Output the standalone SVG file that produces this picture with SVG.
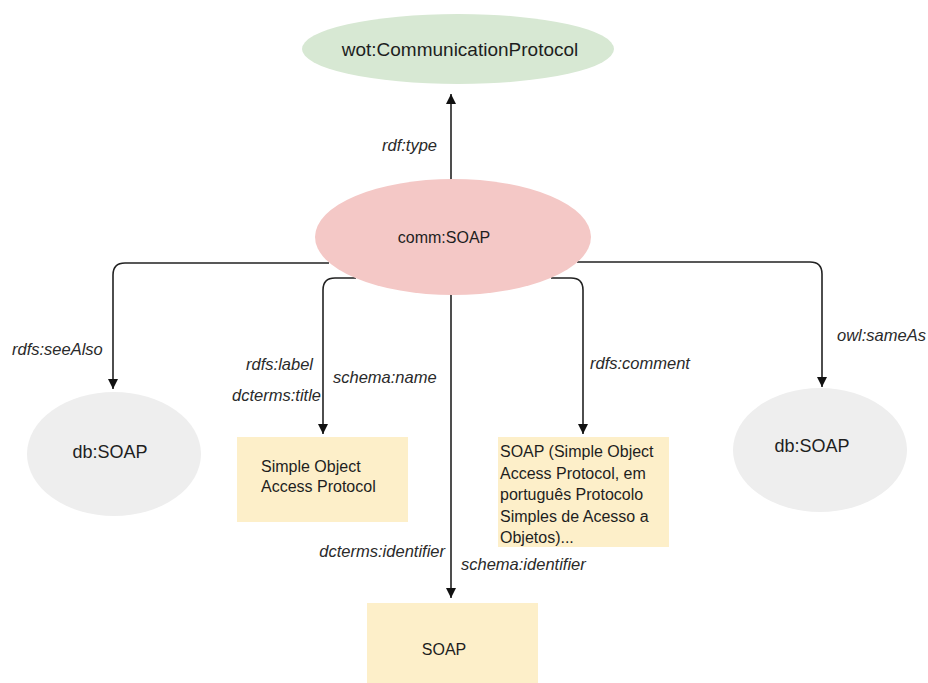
<svg xmlns="http://www.w3.org/2000/svg" width="928" height="683" viewBox="0 0 928 683">
<defs>
<marker id="arr" viewBox="0 0 10 10" refX="10" refY="5" markerWidth="10" markerHeight="10" markerUnits="userSpaceOnUse" orient="auto">
<path d="M0,0 L10,5 L0,10 Z" fill="#111"/>
</marker>
<style>
.edge{fill:none;stroke:#222;stroke-width:1.6;marker-end:url(#arr)}
.lbl{font-family:"Liberation Sans",Arial,sans-serif;font-style:italic;font-size:16.5px;fill:#2a2a2a}
.nt{font-family:"Liberation Sans",Arial,sans-serif;fill:#1e1e1e}
</style>
</defs>
<rect width="928" height="683" fill="#ffffff"/>
<g id="connectors">
<path class="edge" d="M451,180 L451,94"/>
<path class="edge" d="M329,263 L125,263 Q113,263 113,275 L113,389"/>
<path class="edge" d="M356,278 L335,278 Q323,278 323,290 L323,434"/>
<path class="edge" d="M451,294 L451,598"/>
<path class="edge" d="M551,278 L571,278 Q583,278 583,290 L583,434"/>
<path class="edge" d="M577,262 L810,262 Q822,262 822,274 L822,387"/>
</g>
<g id="labels">
<text class="lbl" x="382" y="151">rdf:type</text>
<text class="lbl" x="12" y="355">rdfs:seeAlso</text>
<text class="lbl" x="313" y="370" text-anchor="end">rdfs:label</text>
<text class="lbl" x="321" y="401" text-anchor="end">dcterms:title</text>
<text class="lbl" x="333" y="383">schema:name</text>
<text class="lbl" x="590" y="369">rdfs:comment</text>
<text class="lbl" x="837" y="341">owl:sameAs</text>
<text class="lbl" x="445" y="557" text-anchor="end">dcterms:identifier</text>
<text class="lbl" x="461" y="570">schema:identifier</text>
</g>
<g id="protocol">
<ellipse cx="458" cy="49" rx="156" ry="35" fill="#d7e8d3"/>
<text class="nt" x="460" y="56" font-size="19" text-anchor="middle">wot:CommunicationProtocol</text>
</g>
<g id="soap">
<ellipse cx="453" cy="237" rx="138" ry="58" fill="#f4c8c6"/>
<text class="nt" x="444" y="243" font-size="16" text-anchor="middle">comm:SOAP</text>
</g>
<g id="dbsoap-left">
<ellipse cx="114" cy="454" rx="87" ry="62" fill="#eeeeee"/>
<text class="nt" x="110" y="458" font-size="18" text-anchor="middle">db:SOAP</text>
</g>
<g id="label-box">
<rect x="237" y="437" width="171" height="85" fill="#fdefc9"/>
<text class="nt" x="261" y="472" font-size="16">Simple Object</text>
<text class="nt" x="261" y="492" font-size="16">Access Protocol</text>
</g>
<g id="comment-box">
<rect x="498" y="437" width="171" height="110" fill="#fdefc9"/>
<text class="nt" x="500" y="457" font-size="16">SOAP (Simple Object</text>
<text class="nt" x="500" y="478.5" font-size="16">Access Protocol, em</text>
<text class="nt" x="500" y="500" font-size="16">português Protocolo</text>
<text class="nt" x="500" y="521.5" font-size="16">Simples de Acesso a</text>
<text class="nt" x="500" y="543" font-size="16">Objetos)...</text>
</g>
<g id="dbsoap-right">
<ellipse cx="820" cy="450" rx="87" ry="62" fill="#eeeeee"/>
<text class="nt" x="812" y="452" font-size="18" text-anchor="middle">db:SOAP</text>
</g>
<g id="identifier-box">
<rect x="367" y="603" width="171" height="80" fill="#fdefc9"/>
<text class="nt" x="444" y="655" font-size="16" text-anchor="middle">SOAP</text>
</g>
</svg>
